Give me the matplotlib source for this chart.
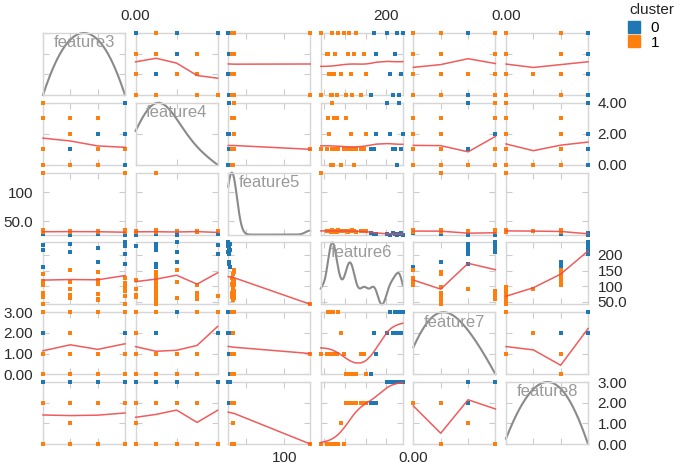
import numpy as np
import matplotlib.pyplot as plt
from matplotlib.lines import Line2D

plt.rcParams['font.family'] = ['Liberation Sans', 'DejaVu Sans']

# data (one entry per sample)
feature3 = [0, 2, 3, 1, 0, 2, 3, 0, 1, 3, 3,
            0, 3, 2, 1, 0, 3, 1, 2, 0, 3, 2, 0, 1, 3, 1,
            0, 2, 3, 1, 0, 2, 3, 1, 0, 2]
feature4 = [1, 2, 4, 2, 1, 1, 0, 4, 1, 2, 1,
            1, 1, 1, 2, 0, 1, 3, 1, 3, 1, 3, 4, 0, 1, 0,
            3, 1, 1, 2, 1, 0, 1, 2, 1, 1]
feature5 = [29, 28, 28, 27, 29, 28, 27, 28, 29, 27, 28,
            134, 134, 33, 34, 32, 35, 33, 34, 32, 33, 33, 34, 32, 35, 33,
            34, 32, 33, 34, 35, 33, 32, 34, 33, 34]
feature6 = [163, 176, 203, 210, 216, 222, 227, 231, 235, 240, 170,
            42, 43, 56, 62, 66, 70, 73, 76, 80, 99, 60, 68, 72, 84, 90,
            104, 108, 111, 114, 117, 121, 127, 152, 138, 146]
feature7 = [0, 1, 2, 3, 2, 3, 2, 3, 2, 3, 2,
            1, 1, 1, 1, 1, 1, 1, 1, 1, 1, 3, 3, 3, 3, 2,
            0, 0, 0, 0, 0, 0, 0, 0, 1, 1]
feature8 = [2, 2, 3, 3, 3, 3, 3, 3, 3, 3, 2,
            0, 0, 0, 0, 0, 0, 0, 0, 0, 0, 0, 0, 0, 0, 1,
            2, 2, 2, 2, 2, 2, 2, 2, 2, 2]
cluster = [0, 0, 0, 0, 0, 0, 0, 0, 0, 0, 0,
           1, 1, 1, 1, 1, 1, 1, 1, 1, 1, 1, 1, 1, 1, 1,
           1, 1, 1, 1, 1, 1, 1, 1, 1, 1]

names = ['feature3', 'feature4', 'feature5', 'feature6', 'feature7', 'feature8']
cols = [feature3, feature4, feature5, feature6, feature7, feature8]

ticks = [[0, 1, 2, 3], [0, 2, 4], [50, 100], [50, 100, 150, 200],
         [0, 1, 2, 3], [0, 1, 2, 3]]
tick_text = [['0.00', '1.00', '2.00', '3.00'], ['0.00', '2.00', '4.00'],
             ['50.0', '100'], ['50.0', '100', '150', '200'],
             ['0.00', '1.00', '2.00', '3.00'], ['0.00', '1.00', '2.00', '3.00']]
# which labels are visible on the outer edges
top_show = {1: ['0.00'], 3: ['200'], 5: ['0.00']}
bottom_show = {2: ['100'], 4: ['0.00']}
left_show = {2: ['50.0', '100'], 4: ['0.00', '1.00', '2.00', '3.00']}
right_show = {1: ['0.00', '2.00', '4.00'], 3: ['50.0', '100', '150', '200'],
              5: ['0.00', '1.00', '2.00', '3.00']}

kde_bw = [1.2, 1.0, 6.0, 8.0, 1.1, 1.5]
colors = {0: '#1f77b4', 1: '#ff7f0e'}


def kde_curve(v, bw):
    grid = np.linspace(v.min(), v.max(), 200)
    d = np.exp(-0.5 * ((grid[:, None] - v[None, :]) / bw) ** 2).sum(1)
    d = (d - d.min()) / (d.max() - d.min())
    return grid, d


def smooth_line(x, y, frac=0.15, iters=2):
    # kernel smoother with lowess-style robustness weights
    bw = frac * (x.max() - x.min())
    rw = np.ones_like(y)
    w = np.exp(-0.5 * ((x[:, None] - x[None, :]) / bw) ** 2)
    for _ in range(iters):
        fit = (w * rw * y).sum(1) / (w * rw).sum(1)
        res = y - fit
        s = np.median(np.abs(res))
        if s == 0:
            break
        u = np.clip(res / (6 * s), -1, 1)
        rw = np.maximum((1 - u ** 2) ** 2, 1e-3)
    xs = np.unique(x)
    w = np.exp(-0.5 * ((xs[:, None] - x[None, :]) / bw) ** 2)
    return xs, (w * rw * y).sum(1) / (w * rw).sum(1)


def shown(labels, keep):
    return [t if t in keep else '' for t in labels]


data = [np.array(c, dtype=float) for c in cols]
cl = np.array(cluster)

fig = plt.figure(figsize=(6.85, 4.66), dpi=100)
W, H = 685, 466
n = len(names)
for i in range(n):        # row -> y feature
    for j in range(n):    # column -> x feature
        left = 43 + j * 92.6
        top = 33 + i * 69.8
        ax = fig.add_axes([left / W, 1 - (top + 62) / H, 82 / W, 62 / H])
        x, y = data[j], data[i]
        ax.set_xlim(x.min(), x.max())
        ax.set_ylim(y.min(), y.max())
        if i == j:
            gx, gd = kde_curve(x, kde_bw[i])
            ax.plot(gx, y.min() + gd * (y.max() - y.min()), color='#8a8a8a',
                    lw=1.5, clip_on=False)
            ax.text(0.5, 0.84, names[i], transform=ax.transAxes, ha='center',
                    va='center', fontsize=12, color='#9a9a9a')
        else:
            for c in (0, 1):
                m = cl == c
                ax.scatter(x[m], y[m], s=8, marker='s', color=colors[c],
                           linewidths=0, clip_on=False, zorder=3)
            sx, sy = smooth_line(x, y)
            ax.plot(sx, sy, color='#ee4a4a', lw=1.1, alpha=0.9,
                    clip_on=False, zorder=4)

        ax.set_xticks(ticks[j])
        ax.set_yticks(ticks[i])
        ax.tick_params(direction='in', length=4, color='#cccccc', width=0.8,
                       top=True, right=True, labelbottom=False, labelleft=False,
                       labelsize=11, labelcolor='#2b2b2b', pad=7)
        for s in ax.spines.values():
            s.set_color('#d6d6d6')
            s.set_linewidth(1.0)

        if i == 0 and j in top_show:
            ax.tick_params(labeltop=True)
            ax.set_xticklabels(shown(tick_text[j], top_show[j]))
        if i == n - 1 and j in bottom_show:
            ax.tick_params(labelbottom=True, pad=5)
            ax.set_xticklabels(shown(tick_text[j], bottom_show[j]))
        if j == 0 and i in left_show:
            ax.tick_params(labelleft=True)
            ax.set_yticklabels(shown(tick_text[i], left_show[i]))
        if j == n - 1 and i in right_show:
            ax.tick_params(labelright=True)
            ax.set_yticklabels(shown(tick_text[i], right_show[i]))

fig.text(629 / W, 1 - 10 / H, 'cluster', fontsize=11, color='#222222',
         ha='left', va='center')
handles = [Line2D([], [], marker='s', ls='none', color=colors[c], markersize=8)
           for c in (0, 1)]
fig.legend(handles, ['0', '1'], loc='upper left',
           bbox_to_anchor=(626 / W, 1 - 21 / H), frameon=False, fontsize=11,
           handlelength=1.0, handletextpad=0.6, labelspacing=0.05,
           borderpad=0, borderaxespad=0)

fig.savefig('out.png', dpi=100)
